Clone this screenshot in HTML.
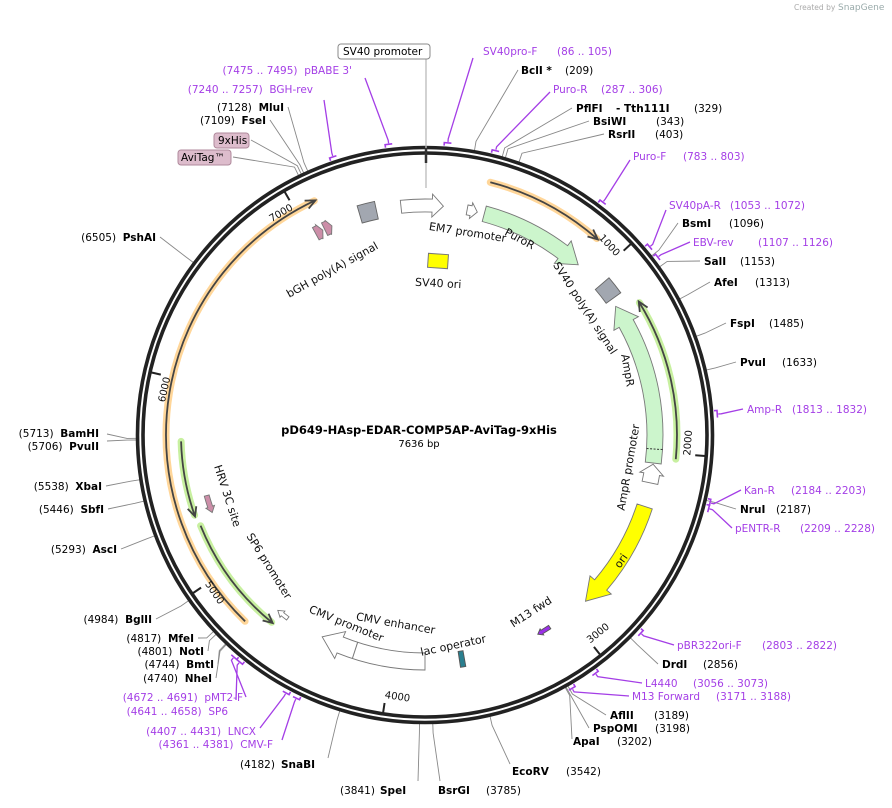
<!DOCTYPE html>
<html><head><meta charset="utf-8"><style>
html,body{margin:0;padding:0;background:#fff;}
svg{display:block;font-family:"DejaVu Sans","Liberation Sans",sans-serif;font-size:10.5px;}
.b{font-weight:bold;fill:#000}
.n{fill:#000}
.p{fill:#a43ee6}
.f{fill:#111}
</style></head><body>
<svg id="s" width="892" height="808" viewBox="0 0 892 808" xmlns="http://www.w3.org/2000/svg">
<text x="794" y="10" font-size="7.5" fill="#aaa">Created by</text><text x="838" y="10" font-size="9" fill="#9aa">SnapGene</text>
<g id="lines"></g>
<g id="ring">
<circle cx="425" cy="435" r="287.5" fill="none" stroke="#222" stroke-width="3.6"/>
<circle cx="425" cy="435" r="282" fill="none" stroke="#222" stroke-width="3.6"/>
</g>
<g id="feat"></g>
<line x1="426" y1="58" x2="426" y2="188" stroke="#bbb" stroke-width="1.3"/>
<line x1="426" y1="148" x2="426" y2="163" stroke="#333" stroke-width="2.5"/>
<rect x="338" y="44" width="92" height="15" rx="3" fill="#fff" stroke="#888"/>
<text x="343" y="55" class="n">SV40 promoter</text>
<rect x="214" y="133" width="35" height="15" rx="3" fill="#ddbccc" stroke="#b08a9c"/>
<text x="218" y="144" class="n">9xHis</text>
<rect x="178" y="150" width="53" height="15" rx="3" fill="#ddbccc" stroke="#b08a9c"/>
<text x="181" y="161" class="n">AviTag™</text>

<text x="483" y="55" class="p">SV40pro-F</text><text x="557" y="55" class="p">(86 .. 105)</text>
<text x="521" y="74" class="b">BclI *</text><text x="565" y="74" class="n">(209)</text>
<text x="553" y="93" class="p">Puro-R</text><text x="601" y="93" class="p">(287 .. 306)</text>
<text x="576" y="112" class="b">PflFI</text><text x="616" y="112" class="b">- Tth111I</text><text x="694" y="112" class="n">(329)</text>
<text x="593" y="125" class="b">BsiWI</text><text x="656" y="125" class="n">(343)</text>
<text x="608" y="138" class="b">RsrII</text><text x="655" y="138" class="n">(403)</text>
<text x="633" y="160" class="p">Puro-F</text><text x="683" y="160" class="p">(783 .. 803)</text>
<text x="669" y="209" class="p">SV40pA-R</text><text x="730" y="209" class="p">(1053 .. 1072)</text>
<text x="682" y="227" class="b">BsmI</text><text x="729" y="227" class="n">(1096)</text>
<text x="693" y="246" class="p">EBV-rev</text><text x="758" y="246" class="p">(1107 .. 1126)</text>
<text x="704" y="265" class="b">SalI</text><text x="740" y="265" class="n">(1153)</text>
<text x="714" y="286" class="b">AfeI</text><text x="755" y="286" class="n">(1313)</text>
<text x="730" y="327" class="b">FspI</text><text x="769" y="327" class="n">(1485)</text>
<text x="740" y="366" class="b">PvuI</text><text x="782" y="366" class="n">(1633)</text>
<text x="747" y="413" class="p">Amp-R</text><text x="792" y="413" class="p">(1813 .. 1832)</text>
<text x="744" y="494" class="p">Kan-R</text><text x="791" y="494" class="p">(2184 .. 2203)</text>
<text x="740" y="513" class="b">NruI</text><text x="776" y="513" class="n">(2187)</text>
<text x="735" y="532" class="p">pENTR-R</text><text x="800" y="532" class="p">(2209 .. 2228)</text>
<text x="677" y="649" class="p">pBR322ori-F</text><text x="762" y="649" class="p">(2803 .. 2822)</text>
<text x="662" y="668" class="b">DrdI</text><text x="703" y="668" class="n">(2856)</text>
<text x="645" y="687" class="p">L4440</text><text x="693" y="687" class="p">(3056 .. 3073)</text>
<text x="632" y="700" class="p">M13 Forward</text><text x="716" y="700" class="p">(3171 .. 3188)</text>
<text x="610" y="719" class="b">AflII</text><text x="654" y="719" class="n">(3189)</text>
<text x="593" y="732" class="b">PspOMI</text><text x="655" y="732" class="n">(3198)</text>
<text x="573" y="745" class="b">ApaI</text><text x="617" y="745" class="n">(3202)</text>
<text x="512" y="775" class="b">EcoRV</text><text x="566" y="775" class="n">(3542)</text>
<text x="438" y="794" class="b">BsrGI</text><text x="486" y="794" class="n">(3785)</text>
<text x="340" y="794" class="n">(3841)</text><text x="380" y="794" class="b">SpeI</text>
<text x="240" y="768" class="n">(4182)</text><text x="281" y="768" class="b">SnaBI</text>

<text x="273" y="748" class="p" text-anchor="end">(4361 .. 4381)&#160;&#160;CMV-F</text>
<text x="256" y="735" class="p" text-anchor="end">(4407 .. 4431)&#160;&#160;LNCX</text>
<text x="228" y="715" class="p" text-anchor="end">(4641 .. 4658)&#160;&#160;SP6</text>
<text x="243" y="701" class="p" text-anchor="end">(4672 .. 4691)&#160;&#160;pMT2-F</text>
<text x="212" y="682" text-anchor="end"><tspan class="n">(4740)&#160;&#160;</tspan><tspan class="b">NheI</tspan></text>
<text x="214" y="668" text-anchor="end"><tspan class="n">(4744)&#160;&#160;</tspan><tspan class="b">BmtI</tspan></text>
<text x="204" y="655" text-anchor="end"><tspan class="n">(4801)&#160;&#160;</tspan><tspan class="b">NotI</tspan></text>
<text x="194" y="642" text-anchor="end"><tspan class="n">(4817)&#160;&#160;</tspan><tspan class="b">MfeI</tspan></text>
<text x="152" y="623" text-anchor="end"><tspan class="n">(4984)&#160;&#160;</tspan><tspan class="b">BglII</tspan></text>
<text x="117" y="553" text-anchor="end"><tspan class="n">(5293)&#160;&#160;</tspan><tspan class="b">AscI</tspan></text>
<text x="104" y="513" text-anchor="end"><tspan class="n">(5446)&#160;&#160;</tspan><tspan class="b">SbfI</tspan></text>
<text x="102" y="490" text-anchor="end"><tspan class="n">(5538)&#160;&#160;</tspan><tspan class="b">XbaI</tspan></text>
<text x="99" y="450" text-anchor="end"><tspan class="n">(5706)&#160;&#160;</tspan><tspan class="b">PvuII</tspan></text>
<text x="99" y="437" text-anchor="end"><tspan class="n">(5713)&#160;&#160;</tspan><tspan class="b">BamHI</tspan></text>
<text x="156" y="241" text-anchor="end"><tspan class="n">(6505)&#160;&#160;</tspan><tspan class="b">PshAI</tspan></text>
<text x="266" y="124" text-anchor="end"><tspan class="n">(7109)&#160;&#160;</tspan><tspan class="b">FseI</tspan></text>
<text x="284" y="111" text-anchor="end"><tspan class="n">(7128)&#160;&#160;</tspan><tspan class="b">MluI</tspan></text>
<text x="313" y="93" class="p" text-anchor="end">(7240 .. 7257)&#160;&#160;BGH-rev</text>
<text x="352" y="74" class="p" text-anchor="end">(7475 .. 7495)&#160;&#160;pBABE 3'</text>

<text x="419" y="434" text-anchor="middle" class="b" font-size="11.5">pD649-HAsp-EDAR-COMP5AP-AviTag-9xHis</text>
<text x="419" y="447" text-anchor="middle" class="n" font-size="10">7636 bp</text>

<g class="f" text-anchor="middle" font-size="11">
<text transform="translate(467,236) rotate(9)">EM7 promoter</text>
<text transform="translate(518,242) rotate(28)">PuroR</text>
<text transform="translate(582,310) rotate(57)">SV40 poly(A) signal</text>
<text transform="translate(624,371) rotate(80)">AmpR</text>
<text transform="translate(632,468) rotate(-80)">AmpR promoter</text>
<text transform="translate(624,563) rotate(-55)">ori</text>
<text transform="translate(533,615) rotate(-33)">M13 fwd</text>
<text transform="translate(454,649) rotate(-12)">lac operator</text>
<text transform="translate(395,627) rotate(10)">CMV enhancer</text>
<text transform="translate(345,627) rotate(22)">CMV promoter</text>
<text transform="translate(266,568) rotate(58)">SP6 promoter</text>
<text transform="translate(224,497) rotate(72)">HRV 3C site</text>
<text transform="translate(334,273) rotate(-29)">bGH poly(A) signal</text>
<text transform="translate(438,287) rotate(3)">SV40 ori</text>
</g>
<g id="ticks" font-size="10" fill="#111"></g>
<script>
(function(){
var cx=425,cy=435,NS="http://www.w3.org/2000/svg";
function P(a,r){var t=a*Math.PI/180;return [cx+r*Math.sin(t),cy-r*Math.cos(t)];}
function A(bp){return bp/7636*360;}
function el(par,tag,at){var e=document.createElementNS(NS,tag);for(var k in at)e.setAttribute(k,at[k]);document.getElementById(par).appendChild(e);return e;}
function f(p){return p[0].toFixed(1)+","+p[1].toFixed(1);}
var L=[[209,518,70,0],[329,572,108,0],[343,589,121,0],[403,604,134,0],[1096,678,223,0],[1153,700,261,0],[1313,710,282,0],[1485,726,323,0],[1633,736,362,0],[2187,736,509,0],[2856,658,664,0],[3189,606,715,0],[3198,589,728,0],[3202,572,739,0],[3542,510,764,0],[3785,440,781,0],[3841,418,781,0],[4182,328,758,0],
[4740,216,678,0],[4744,218,664,0],[4801,208,651,0],[4817,198,638,0],[4984,156,619,0],[5293,121,549,0],[5446,108,509,0],[5538,106,486,0],[5706,107,441,0],[5713,107,434,0],[6505,160,237,0],[7109,270,120,0],[7128,288,107,0],[7085,233,157,0],[7098,251,140,0],
[95,473,58,1],[296,550,92,1],[793,630,160,1],[1062,666,210,1],[1116,690,242,1],[1822,743,409,1],[2193,741,490,1],[2218,732,528,1],[2812,674,645,1],[3064,642,683,1],[3179,629,696,1],[4681,246,697,1],[4650,236,700,1],[4419,260,728,1],[4371,282,740,1],[7485,365,78,1],[7248,324,100,1]];
L.forEach(function(l){var a=A(l[0]);var c=l[3]?"#a43ee6":"#888";
var p1=P(a,l[3]?294:289),p2=P(a,l[3]?297:298);
el("lines","polyline",{points:f(p1)+" "+f(p2)+" "+l[1]+","+l[2],fill:"none",stroke:c,"stroke-width":l[3]?1.3:0.9});
if(l[3]){var q1=P(a-0.7,293),q2=P(a+0.7,293),q0=P(a-0.7,290);
el("lines","polyline",{points:f(q0)+" "+f(q1)+" "+f(q2),fill:"none",stroke:c,"stroke-width":1.6});}
});
[1000,2000,3000,4000,5000,6000,7000].forEach(function(bp){var a=A(bp);
el("ticks","line",{x1:P(a,281)[0],y1:P(a,281)[1],x2:P(a,271)[0],y2:P(a,271)[1],stroke:"#222","stroke-width":2});
var top=(a<90||a>270);var rot=top?a:a-180;var p=P(a+(top?-0.2:0.2),top?270:266);
var t=el("ticks","text",{transform:"translate("+f(p)+") rotate("+rot.toFixed(1)+")","text-anchor":top?"end":"start",dy:top?"9":"0"});
t.textContent=String(bp);
});
function arrow(a1,a2,r1,r2,h,w,fill,stroke){var dir=a2>a1?1:-1;var b=a2-dir*h;var rm=(r1+r2)/2;
var big=Math.abs(b-a1)>180?1:0;var sw=dir>0?1:0;
var d="M"+f(P(a1,r2))+" A"+r2+","+r2+" 0 "+big+" "+sw+" "+f(P(b,r2))+" L"+f(P(b,r2+w))+" L"+f(P(a2,rm))+" L"+f(P(b,r1-w))+" L"+f(P(b,r1))+" A"+r1+","+r1+" 0 "+big+" "+(1-sw)+" "+f(P(a1,r1))+" Z";
return el("feat","path",{d:d,fill:fill,stroke:stroke,"stroke-width":0.9});}
function block(a1,a2,r1,r2,fill,stroke){var d="M"+f(P(a1,r2))+" A"+r2+","+r2+" 0 0 1 "+f(P(a2,r2))+" L"+f(P(a2,r1))+" A"+r1+","+r1+" 0 0 0 "+f(P(a1,r1))+" Z";return el("feat","path",{d:d,fill:fill,stroke:stroke,"stroke-width":0.9});}
function track(a1,a2,r,glow){var dir=a2>a1?1:-1;var b=a2-dir*2.2;var big=Math.abs(a2-a1)>180?1:0;var sw=dir>0?1:0;
var d="M"+f(P(a1,r))+" A"+r+","+r+" 0 "+big+" "+sw+" "+f(P(a2-dir*0.3,r));
el("feat","path",{d:d,fill:"none",stroke:glow,"stroke-width":7,"stroke-linecap":"round"});
el("feat","path",{d:d,fill:"none",stroke:"#444","stroke-width":1.8});
el("feat","polyline",{points:f(P(b,r+4.5))+" "+f(P(a2,r))+" "+f(P(b,r-4.5)),fill:"none",stroke:"#444","stroke-width":1.8});}
track(14.5,41.5,261,"#ffd699");
track(224,335,259,"#ffd699");
track(95.5,58,252,"#c8f0a0");
track(268.5,250.5,244,"#c8f0a0");
track(248,219,242,"#c8f0a0");
arrow(-6,4.6,223,236,2.8,5,"#fff","#777");
arrow(10.6,13.2,224,234,1.6,3,"#fff","#777");
arrow(15,42,221,237,5,6,"#ccf5cc","#777");
block(49.5,54,224,242,"#a2a7b0","#666");
arrow(97,56,222,238,5,6,"#ccf5cc","#777");
var dl=[P(93.5,222),P(93.5,238)];el("feat","line",{x1:dl[0][0],y1:dl[0][1],x2:dl[1][0],y2:dl[1][1],stroke:"#333","stroke-dasharray":"2,1.5"});
arrow(102,97.3,222,238,2.5,4,"#fff","#777");
arrow(108,136,223,239,5.5,6,"#ffff00","#777");
arrow(147,150.5,227,231,1.2,1.5,"#9b30e8","#555");
block(170,171.3,219,235,"#2a7f8f","#555");
arrow(180,207,218,235,5,6,"#fff","#777");
var dv=[P(198,218),P(198,235)];el("feat","line",{x1:dv[0][0],y1:dv[0][1],x2:dv[1][0],y2:dv[1][1],stroke:"#777"});
arrow(216.8,220,227,231,1.5,2,"#fff","#777");
arrow(254.5,250,224,229,1.5,2,"#cc8ea8","#777");
block(343.5,347.8,221,239,"#a2a7b0","#666");
arrow(331.5,333.5,222,236,1,1,"#cc8ea8","#777");
arrow(334,336,222,236,1,1,"#cc8ea8","#777");
el("feat","rect",{x:-10,y:-7,width:20,height:14,fill:"#ffff00",stroke:"#777",transform:"translate(438,261) rotate(4)"});
})();
</script>
</svg>
</body></html>
